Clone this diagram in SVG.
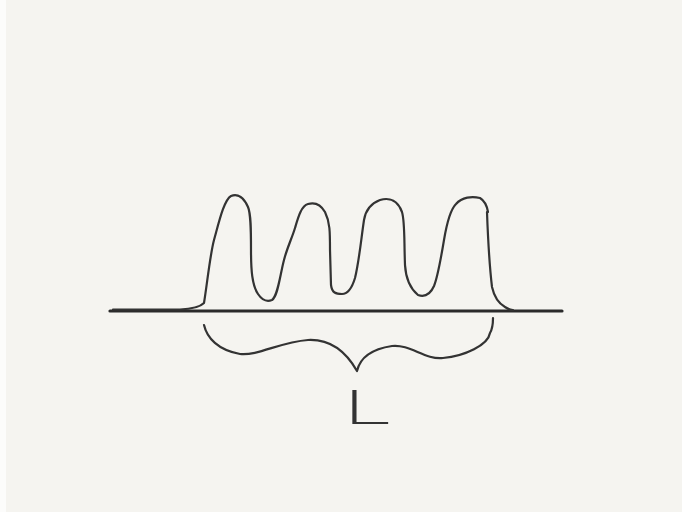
<svg xmlns="http://www.w3.org/2000/svg" width="682" height="512" viewBox="0 0 682 512">
<style>
.s{fill:none;stroke:#333;stroke-width:2.2;stroke-linecap:round;stroke-linejoin:round}
.b{fill:none;stroke:#2b2b2b;stroke-width:3.2;stroke-linecap:round}
.t{font-family:Inter,"Noto Sans","Liberation Sans",sans-serif;font-weight:200;font-size:47px;fill:#333}
</style>
<rect width="682" height="512" fill="#f5f4f0"/>
<rect width="6" height="512" fill="#fcfcfb"/>
<g id="baseline">
<path class="b" d="M110,311 L562,311"/>
</g>
<g id="wave">
<path class="s" d="M113,309.5 L180,309.5 C192,309 200,307 204,303 C207,285 210,255 214,240 C219,222 224,200 231,196 C238,193 244,198 248,207 C251,214 251,230 251,250 C251,270 252,285 258,294 C262,300 267,302 272,300 C278,296 280,275 284,260 C287,248 292,238 295,228 C298,218 301,206 308,204 C315,202 321,205 325,212 C330,222 330,232 330,250 L331,285 C332,293 336,294 342,294 C348,294 352,288 355,278 C359,262 361,240 364,220 C366,208 372,203 380,200 C390,197 398,201 402,212 C405,222 404,240 405,265 C406,282 412,290 418,295 C424,297 430,295 434,286 C438,276 441,258 444,240 C447,222 450,210 456,204 C462,197 472,196 480,198 C485,201 487,206 488,212"/>
<path class="s" d="M487,212 C488,240 490,270 492,287 C494,296 498,303 505,307 C508,309 511,310 513,310"/>
</g>
<g id="brace">
<path class="s" d="M204,325 C207,338 218,350 240,354 C258,356 280,342 308,340 C328,339 345,350 357,371 C360,358 372,349 392,346 C410,344 425,360 443,358 C465,356 488,345 490,333 C493,328 493,322 493,318"/>
</g>
<g id="label">
<text class="t" x="0" y="0" transform="translate(343,424) scale(1.9,1)">L</text>
</g>
</svg>
